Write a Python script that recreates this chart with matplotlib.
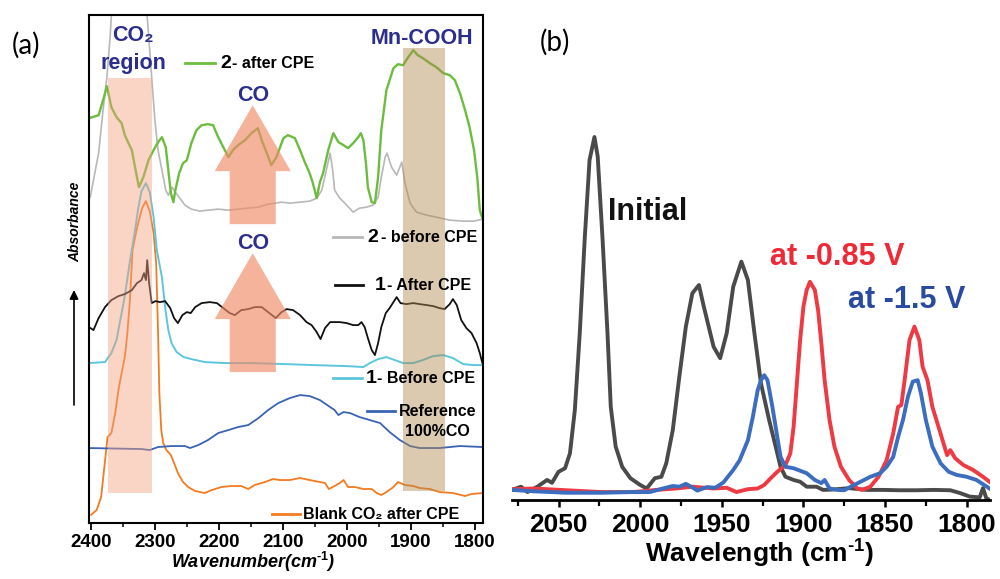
import matplotlib
matplotlib.use("Agg")
import numpy as np
import matplotlib.pyplot as plt
from matplotlib.patches import FancyArrow
from matplotlib.ticker import MultipleLocator

plt.rcParams['font.family'] = ['Liberation Sans', 'DejaVu Sans']
plt.rcParams['mathtext.fontset'] = 'custom'
plt.rcParams['mathtext.rm'] = 'Liberation Sans:bold'
plt.rcParams['mathtext.bf'] = 'Liberation Sans:bold'
plt.rcParams['mathtext.it'] = 'Liberation Sans:bold:italic'

# ---------------- panel (a): stacked IR spectra (wavenumber, absorbance) ----------------
AFTER_2 = [(2403, 4.05), (2388, 4.08), (2381, 4.23), (2375, 4.37), (2368, 4.16), (2360, 4.06),
           (2352, 4.00), (2347, 3.88), (2342, 3.81), (2336, 3.73), (2331, 3.56), (2325, 3.36),
           (2318, 3.46), (2310, 3.63), (2302, 3.73), (2295, 3.81), (2289, 3.86), (2283, 3.76),
           (2279, 3.53), (2275, 3.30), (2271, 3.21), (2268, 3.33), (2262, 3.50), (2256, 3.60),
           (2250, 3.63), (2243, 3.80), (2235, 3.93), (2227, 3.98), (2217, 3.99), (2209, 3.98),
           (2201, 3.86), (2193, 3.76), (2185, 3.66), (2178, 3.73), (2170, 3.78), (2159, 3.83),
           (2149, 3.90), (2139, 3.95), (2133, 3.83), (2125, 3.70), (2118, 3.58), (2110, 3.66),
           (2099, 3.85), (2092, 3.88), (2081, 3.85), (2073, 3.73), (2065, 3.60), (2058, 3.50),
           (2053, 3.40), (2047, 3.25), (2042, 3.41), (2037, 3.50), (2029, 3.73), (2021, 3.90),
           (2013, 3.81), (2005, 3.78), (1998, 3.75), (1990, 3.80), (1982, 3.86), (1978, 3.90),
           (1974, 3.83), (1970, 3.60), (1967, 3.36), (1961, 3.21), (1956, 3.20), (1951, 3.46),
           (1946, 3.93), (1938, 4.33), (1927, 4.55), (1920, 4.59), (1912, 4.58), (1904, 4.66),
           (1896, 4.73), (1889, 4.68), (1881, 4.65), (1870, 4.60), (1860, 4.56), (1849, 4.50),
           (1839, 4.48), (1831, 4.43), (1823, 4.30), (1815, 4.13), (1808, 3.96), (1801, 3.73),
           (1796, 3.46), (1792, 3.13), (1788, 3.05)]

BEFORE_2 = [(2401, 3.26), (2388, 3.70), (2381, 4.13), (2375, 4.46), (2370, 4.86), (2366, 5.30),
            (2355, 5.80), (2340, 6.00), (2325, 5.80), (2315, 5.30), (2310, 4.90), (2305, 4.46),
            (2300, 4.03), (2295, 3.73), (2289, 3.53), (2283, 3.33), (2279, 3.28), (2273, 3.36),
            (2268, 3.31), (2261, 3.25), (2253, 3.18), (2243, 3.14), (2230, 3.12), (2217, 3.13),
            (2201, 3.14), (2185, 3.13), (2170, 3.14), (2154, 3.15), (2138, 3.16), (2123, 3.19),
            (2102, 3.21), (2089, 3.20), (2073, 3.21), (2058, 3.22), (2047, 3.25), (2039, 3.33),
            (2032, 3.53), (2026, 3.70), (2022, 3.53), (2019, 3.33), (2011, 3.25), (2000, 3.18),
            (1990, 3.11), (1980, 3.15), (1969, 3.16), (1959, 3.18), (1951, 3.26), (1946, 3.46),
            (1940, 3.66), (1937, 3.70), (1930, 3.56), (1922, 3.48), (1914, 3.61), (1909, 3.40),
            (1901, 3.20), (1891, 3.11), (1875, 3.08), (1860, 3.06), (1839, 3.03), (1818, 3.02),
            (1802, 3.02), (1787, 3.04)]

AFTER_1 = [(2403, 1.96), (2396, 1.93), (2388, 2.05), (2378, 2.16), (2368, 2.23), (2357, 2.27),
           (2347, 2.29), (2336, 2.33), (2328, 2.40), (2321, 2.43), (2317, 2.50), (2314, 2.43),
           (2312, 2.63), (2309, 2.40), (2305, 2.20), (2299, 2.22), (2292, 2.21), (2284, 2.22),
           (2276, 2.15), (2270, 2.05), (2264, 2.00), (2257, 2.08), (2250, 2.11), (2244, 2.10),
           (2237, 2.16), (2227, 2.20), (2214, 2.21), (2203, 2.20), (2193, 2.15), (2183, 2.10),
           (2175, 2.08), (2165, 2.13), (2154, 2.14), (2144, 2.16), (2133, 2.16), (2123, 2.11),
           (2111, 2.05), (2102, 2.11), (2094, 2.14), (2084, 2.13), (2073, 2.08), (2063, 2.01),
           (2055, 1.98), (2047, 1.91), (2041, 1.84), (2034, 1.95), (2026, 2.01), (2019, 2.01),
           (2011, 2.01), (2000, 2.00), (1990, 1.98), (1982, 1.98), (1977, 2.01), (1972, 1.96),
           (1967, 1.85), (1961, 1.73), (1956, 1.68), (1951, 1.80), (1946, 1.96), (1939, 2.10),
           (1933, 2.15), (1927, 2.21), (1922, 2.26), (1916, 2.20), (1907, 2.19), (1896, 2.20),
           (1886, 2.19), (1875, 2.18), (1865, 2.17), (1855, 2.15), (1847, 2.14), (1839, 2.19),
           (1834, 2.24), (1828, 2.18), (1821, 2.03), (1813, 1.95), (1805, 1.90), (1797, 1.80),
           (1792, 1.70), (1788, 1.60)]

BEFORE_1 = [(2403, 1.60), (2378, 1.61), (2368, 1.70), (2360, 1.83), (2355, 2.00), (2349, 2.20),
            (2344, 2.40), (2339, 2.62), (2331, 2.93), (2326, 3.15), (2321, 3.32), (2314, 3.40),
            (2308, 3.31), (2302, 3.06), (2297, 2.73), (2289, 2.46), (2284, 2.16), (2279, 1.93),
            (2274, 1.80), (2266, 1.71), (2255, 1.66), (2243, 1.64), (2222, 1.61), (2190, 1.60),
            (2149, 1.60), (2097, 1.59), (2053, 1.58), (2000, 1.57), (1974, 1.56), (1964, 1.60),
            (1951, 1.64), (1938, 1.66), (1925, 1.63), (1912, 1.60), (1896, 1.60), (1881, 1.63),
            (1865, 1.67), (1849, 1.68), (1834, 1.65), (1818, 1.59), (1802, 1.58), (1787, 1.58)]

REF_CO = [(2403, 0.75), (2321, 0.74), (2308, 0.73), (2295, 0.76), (2274, 0.77), (2253, 0.77),
          (2245, 0.75), (2232, 0.78), (2217, 0.83), (2201, 0.90), (2185, 0.93), (2170, 0.96),
          (2154, 0.98), (2138, 1.05), (2123, 1.13), (2107, 1.20), (2089, 1.25), (2073, 1.28),
          (2058, 1.27), (2042, 1.23), (2026, 1.16), (2019, 1.13), (2013, 1.08), (2005, 1.11),
          (1995, 1.10), (1980, 1.06), (1964, 1.03), (1948, 1.00), (1933, 0.91), (1917, 0.83),
          (1901, 0.77), (1886, 0.75), (1855, 0.75), (1823, 0.77), (1787, 0.76)]

BLANK_CO2 = [(2400, 0.08), (2391, 0.13), (2384, 0.26), (2379, 0.56), (2374, 0.86), (2368, 0.90),
             (2362, 1.10), (2357, 1.33), (2352, 1.50), (2347, 1.66), (2343, 1.90), (2339, 2.23),
             (2335, 2.73), (2328, 2.95), (2320, 3.15), (2314, 3.22), (2308, 3.12), (2302, 2.90),
             (2298, 2.60), (2295, 1.90), (2293, 1.30), (2290, 0.93), (2287, 0.80), (2282, 0.73),
             (2275, 0.68), (2270, 0.60), (2264, 0.50), (2256, 0.41), (2248, 0.36), (2237, 0.32),
             (2222, 0.30), (2211, 0.33), (2196, 0.36), (2180, 0.37), (2165, 0.37), (2154, 0.34),
             (2144, 0.38), (2128, 0.41), (2115, 0.44), (2105, 0.43), (2089, 0.43), (2073, 0.45),
             (2058, 0.43), (2042, 0.41), (2034, 0.40), (2028, 0.34), (2019, 0.37), (2011, 0.40),
             (2005, 0.43), (1998, 0.36), (1987, 0.36), (1974, 0.34), (1961, 0.34), (1953, 0.30),
             (1946, 0.28), (1938, 0.31), (1927, 0.36), (1920, 0.41), (1909, 0.38), (1896, 0.37),
             (1886, 0.35), (1870, 0.34), (1855, 0.31), (1834, 0.30), (1815, 0.27), (1805, 0.29),
             (1787, 0.30)]

A_TICKS = [2400, 2300, 2200, 2100, 2000, 1900, 1800]

# ---------------- panel (b): carbonyl region spectra ----------------
INITIAL = [(2078.5, 0.006), (2073, 0.015), (2069, 0.000), (2063, 0.015), (2057, 0.034),
           (2054, 0.026), (2050, 0.057), (2046, 0.067), (2043, 0.109), (2040, 0.231),
           (2037, 0.447), (2034, 0.710), (2031, 0.935), (2028, 1.000), (2026, 0.945),
           (2023, 0.710), (2020, 0.447), (2018, 0.240), (2015, 0.128), (2011, 0.071),
           (2006, 0.039), (2000, 0.020), (1996, 0.010), (1991, 0.039), (1987, 0.043),
           (1984, 0.081), (1980, 0.175), (1976, 0.325), (1972, 0.466), (1968, 0.560),
           (1964, 0.583), (1961, 0.522), (1955, 0.409), (1951, 0.377), (1947, 0.447),
           (1943, 0.578), (1938, 0.649), (1934, 0.597), (1930, 0.447), (1926, 0.306),
           (1921, 0.203), (1917, 0.128), (1914, 0.071), (1911, 0.043), (1906, 0.034),
           (1902, 0.029), (1898, 0.015), (1892, 0.015), (1888, 0.006), (1882, 0.007),
           (1872, 0.011), (1861, 0.006), (1851, 0.006), (1841, 0.005), (1831, 0.005),
           (1820, 0.006), (1810, 0.005), (1804, -0.003), (1798, -0.013), (1792, -0.015),
           (1790, 0.011), (1788, -0.017), (1786, -0.022)]

AT_085 = [(2078.5, 0.008), (2065, 0.010), (2045, 0.005), (2024, 0.000), (2004, 0.000),
          (1990, 0.006), (1978, 0.010), (1968, 0.015), (1955, 0.010), (1947, 0.012),
          (1941, 0.000), (1934, 0.008), (1928, 0.010), (1924, 0.020), (1920, 0.039),
          (1916, 0.057), (1911, 0.076), (1908, 0.109), (1906, 0.184), (1904, 0.306),
          (1902, 0.428), (1900, 0.522), (1898, 0.569), (1896, 0.592), (1893, 0.569),
          (1891, 0.512), (1889, 0.419), (1887, 0.315), (1884, 0.203), (1881, 0.128),
          (1877, 0.071), (1872, 0.034), (1867, 0.010), (1864, 0.006), (1859, 0.015),
          (1854, 0.043), (1849, 0.090), (1845, 0.165), (1842, 0.240), (1840, 0.245),
          (1838, 0.315), (1835, 0.428), (1832, 0.466), (1829, 0.428), (1827, 0.353),
          (1824, 0.315), (1821, 0.240), (1816, 0.165), (1812, 0.104), (1810, 0.118),
          (1807, 0.095), (1802, 0.076), (1796, 0.062), (1790, 0.043), (1786, 0.029)]

AT_15 = [(2078.5, 0.006), (2065, 0.002), (2045, -0.002), (2024, -0.002), (2004, 0.000),
         (1994, 0.000), (1986, 0.010), (1980, 0.017), (1976, 0.015), (1972, 0.023),
         (1968, 0.013), (1965, 0.004), (1959, 0.014), (1954, 0.012), (1949, 0.027),
         (1943, 0.062), (1939, 0.090), (1934, 0.146), (1931, 0.211), (1928, 0.287),
         (1926, 0.315), (1924, 0.329), (1922, 0.315), (1919, 0.240), (1916, 0.155),
         (1914, 0.099), (1911, 0.071), (1906, 0.067), (1902, 0.060), (1898, 0.053),
         (1893, 0.034), (1889, 0.025), (1887, 0.034), (1884, 0.010), (1879, 0.006),
         (1875, 0.005), (1871, 0.015), (1865, 0.029), (1859, 0.043), (1853, 0.053),
         (1849, 0.071), (1845, 0.099), (1842, 0.155), (1839, 0.203), (1836, 0.268),
         (1833, 0.311), (1830, 0.315), (1828, 0.278), (1825, 0.203), (1821, 0.128),
         (1816, 0.081), (1811, 0.057), (1806, 0.048), (1800, 0.043), (1794, 0.034),
         (1786, 0.010)]

B_TICKS = [2050, 2000, 1950, 1900, 1850, 1800]

NAVY = '#2b2e8c'


def cols(pairs):
    arr = np.array(pairs, dtype=float)
    return arr[:, 0], arr[:, 1]


fig = plt.figure(figsize=(10, 5.79), dpi=100)

# ======================= panel (a) =======================
axa = fig.add_axes([0.089, 0.0967, 0.394, 0.877])
axa.set_xlim(2403, 1787)
axa.set_ylim(0, 5.08)

curves_a = [
    (BLANK_CO2, '#f47b20', 1.3),
    (REF_CO, '#3a63b4', 1.3),
    (BEFORE_1, '#5cc7dc', 1.4),
    (AFTER_1, '#111111', 1.3),
    (BEFORE_2, '#b8b8b8', 1.2),
    (AFTER_2, '#6cbd3e', 1.7),
]
for pairs, color, lw in curves_a:
    x, y = cols(pairs)
    axa.plot(x, y, color=color, lw=lw, zorder=2, solid_capstyle='round')

# shaded regions
axa.fill_betweenx([0.30, 4.45], 2373, 2305, color='#f4a080', alpha=0.45, lw=0, zorder=3)
axa.fill_betweenx([0.32, 4.75], 1912, 1847, color='#b08850', alpha=0.45, lw=0, zorder=3)

# block arrows
for tail, length in [(2.99, 1.19), (1.51, 1.19)]:
    axa.add_patch(FancyArrow(2147, tail, 0, length, width=72, head_width=119,
                             head_length=0.66, length_includes_head=True,
                             color='#f08a68', alpha=0.65, lw=0, zorder=4))

# annotations
tkw = dict(color=NAVY, fontsize=15.5, fontweight='bold', ha='center', va='center', zorder=6)
axa.text(2334, 4.88, 'CO₂', **tkw)
axa.text(2334, 4.60, 'region', **tkw)
axa.text(2147, 4.28, 'CO', **tkw)
axa.text(2147, 2.80, 'CO', **tkw)
axa.text(1883, 4.85, 'Mn-COOH', **tkw)

# in-plot keys
key_entries = [
    # (x1, x2, y_line, colour, number, x_num, rest, x_rest, baseline)
    (2253, 2206, 4.60, '#6cbd3e', '2', 2198, '- after CPE', 2180, 4.55),
    (2022, 1976, 2.86, '#b8b8b8', '2', 1967, '- before CPE', 1946, 2.81),
    (2019, 1975, 2.38, '#111111', '1', 1956, '- After CPE', 1937, 2.33),
    (2022, 1976, 1.45, '#5cc7dc', '1', 1970, '- Before CPE', 1952, 1.40),
]
for x1, x2, yl, c, num, xn, rest, xr, base in key_entries:
    axa.plot([x1, x2], [yl, yl], color=c, lw=2.0, zorder=6)
    axa.text(xn, base, num, fontsize=14, fontweight='bold', ha='left', va='baseline', zorder=6)
    axa.text(xr, base, rest, fontsize=11.5, fontweight='bold', ha='left', va='baseline', zorder=6)

axa.plot([1969, 1925], [1.12, 1.12], color='#3a63b4', lw=2.0, zorder=6)
axa.text(1858, 1.12, 'Reference', fontsize=11.5, fontweight='bold', ha='center', va='center', zorder=6)
axa.text(1858, 0.92, '100%CO', fontsize=11.5, fontweight='bold', ha='center', va='center', zorder=6)
axa.plot([2117, 2073], [0.09, 0.09], color='#f47b20', lw=2.0, zorder=6)
axa.text(2069, 0.09, 'Blank CO₂ after CPE', fontsize=11.5, fontweight='bold',
         ha='left', va='center', zorder=6)

axa.set_xticks(A_TICKS)
axa.xaxis.set_minor_locator(MultipleLocator(50))
axa.tick_params(axis='x', which='major', direction='out', length=5, width=1.3, pad=3,
                labelsize=13.5)
axa.tick_params(axis='x', which='minor', direction='out', length=3, width=1.1)
axa.set_yticks([])
for lab in axa.get_xticklabels():
    lab.set_fontweight('bold')
for sp in axa.spines.values():
    sp.set_linewidth(1.5)

fig.text(0.253, 1 - 562 / 579, r'Wavenumber(cm$^{\text{-}\mathit{1}}$)', fontsize=13,
         fontweight='bold', fontstyle='italic', ha='center', va='center')
fig.text(0.075, 1 - 222 / 579, 'Absorbance', rotation=90, fontsize=10, fontweight='bold',
         fontstyle='italic', ha='center', va='center')
fig.add_artist(plt.Annotation('', xy=(0.074, 1 - 290 / 579), xytext=(0.074, 1 - 405 / 579),
                              xycoords='figure fraction', textcoords='figure fraction',
                              arrowprops=dict(arrowstyle='-|>', color='black', lw=1.2,
                                              mutation_scale=13, shrinkA=0, shrinkB=0)))

# ======================= panel (b) =======================
axb = fig.add_axes([0.512, 0.1364, 0.478, 0.6908])
axb.set_xlim(2078.5, 1785.7)
axb.set_ylim(-0.0225, 1.104)

for pairs, color in [(INITIAL, '#4a4a4a'), (AT_085, '#ee3a43'), (AT_15, '#3d6dbf')]:
    x, y = cols(pairs)
    axb.plot(x, y, color=color, lw=2.8, solid_joinstyle='round')

axb.text(2019.6, 0.789, 'Initial', fontsize=22, fontweight='bold', color='#111111',
         ha='left', va='center')
axb.text(1920.6, 0.662, 'at -0.85 V', fontsize=22, fontweight='bold', color='#ee2a36',
         ha='left', va='center')
axb.text(1872.8, 0.541, 'at -1.5 V', fontsize=22, fontweight='bold', color='#2a4a9f',
         ha='left', va='center')

for side in ('top', 'left', 'right'):
    axb.spines[side].set_visible(False)
axb.spines['bottom'].set_linewidth(2.0)
axb.set_yticks([])
axb.set_xticks(B_TICKS)
axb.xaxis.set_minor_locator(MultipleLocator(25))
axb.tick_params(axis='x', which='major', direction='out', length=5, width=1.8, pad=4,
                labelsize=19)
axb.tick_params(axis='x', which='minor', direction='out', length=4, width=1.6)
for lab in axb.get_xticklabels():
    lab.set_fontweight('bold')

fig.text(0.760, 1 - 554 / 579, r'Wavelength (cm$^{\text{-}1}$)', fontsize=19, fontweight='bold',
         ha='center', va='center')

# panel letters
fig.text(0.026, 1 - 45 / 579, '(a)', fontsize=20, family=['Lato', 'DejaVu Sans'],
         ha='center', va='center')
fig.text(0.555, 1 - 42 / 579, '(b)', fontsize=20, family=['Lato', 'DejaVu Sans'],
         ha='center', va='center')

fig.savefig('out.png', dpi=100)
